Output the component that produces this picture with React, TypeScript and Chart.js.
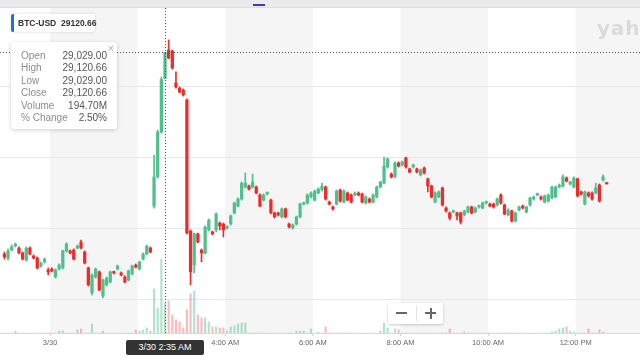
import React, { useEffect, useRef } from "react";
import { Chart, registerables } from "chart.js";
Chart.register(...registerables);

// Minutes relative to 3/30 00:00; 5-minute candles starting 3/29 22:55
const START_MIN = -65;
const STEP_MIN = 5;

const opens = [
  28410, 28396, 28424, 28438, 28431, 28414, 28389, 28431, 28403, 28396,
  28368, 28382, 28354, 28357, 28329, 28357, 28361, 28421, 28421, 28424,
  28431, 28452, 28417, 28361, 28273, 28329, 28347, 28262, 28301, 28311,
  28347, 28357, 28343, 28329, 28318, 28340, 28371, 28357, 28392, 28410,
  28431, 28579, 28682, 28840, 29029, 29129, 29126, 29013, 28995, 28988,
  28953, 28491, 28371, 28481, 28424, 28414, 28495, 28488, 28495, 28519,
  28516, 28502, 28516, 28555, 28579, 28604, 28646, 28650, 28646, 28646,
  28618, 28600, 28622, 28600, 28555, 28555, 28541, 28569, 28516, 28502,
  28516, 28541, 28586, 28590, 28611, 28600, 28625, 28636, 28646, 28593,
  28576, 28586, 28636, 28593, 28625, 28618, 28618, 28625, 28622, 28590,
  28604, 28593, 28611, 28646, 28660, 28717, 28692, 28682, 28731, 28724,
  28749, 28710, 28717, 28710, 28689, 28713, 28675, 28650, 28593, 28611,
  28643, 28572, 28555, 28558, 28555, 28555, 28548, 28558, 28576, 28558,
  28576, 28572, 28590, 28586, 28586, 28583, 28618, 28583, 28548, 28562,
  28526, 28565, 28579, 28558, 28583, 28604, 28618, 28611, 28593, 28597,
  28608, 28611, 28646, 28650, 28678, 28657, 28646, 28675, 28629, 28586,
  28625, 28625, 28625, 28653, 28671, 28660,
];
const highs = [
  28417, 28428, 28442, 28449, 28435, 28417, 28435, 28435, 28407, 28400,
  28382, 28396, 28361, 28361, 28357, 28375, 28424, 28449, 28424, 28428,
  28442, 28459, 28421, 28364, 28340, 28361, 28350, 28322, 28329, 28350,
  28350, 28371, 28347, 28333, 28354, 28371, 28375, 28385, 28414, 28442,
  28435, 28759, 28847, 29034, 29120.66, 29165, 29129, 29052, 28999, 28992,
  28957, 28495, 28484, 28484, 28428, 28509, 28534, 28491, 28555, 28523,
  28519, 28509, 28548, 28593, 28608, 28664, 28696, 28653, 28692, 28650,
  28622, 28622, 28629, 28604, 28558, 28558, 28572, 28572, 28519, 28516,
  28544, 28590, 28593, 28622, 28629, 28636, 28643, 28660, 28650, 28597,
  28579, 28636, 28639, 28636, 28629, 28622, 28629, 28629, 28625, 28615,
  28608, 28622, 28650, 28667, 28752, 28749, 28696, 28735, 28735, 28738,
  28752, 28713, 28727, 28713, 28710, 28717, 28678, 28653, 28629, 28632,
  28646, 28576, 28558, 28565, 28558, 28558, 28565, 28579, 28579, 28576,
  28583, 28593, 28597, 28590, 28590, 28608, 28622, 28586, 28569, 28565,
  28558, 28579, 28583, 28579, 28611, 28615, 28625, 28615, 28618, 28622,
  28650, 28650, 28657, 28689, 28682, 28667, 28682, 28678, 28632, 28632,
  28629, 28629, 28660, 28657, 28689, 28660,
];
const lows = [
  28392, 28389, 28421, 28435, 28410, 28389, 28385, 28407, 28392, 28357,
  28364, 28378, 28336, 28347, 28325, 28354, 28357, 28417, 28410, 28389,
  28428, 28428, 28375, 28297, 28266, 28325, 28280, 28255, 28297, 28308,
  28340, 28354, 28333, 28308, 28315, 28336, 28361, 28354, 28389, 28407,
  28414, 28572, 28678, 28836, 29029, 29098, 29062, 28995, 28978, 28967,
  28481, 28301, 28343, 28449, 28382, 28410, 28491, 28477, 28488, 28495,
  28470, 28498, 28512, 28551, 28576, 28600, 28643, 28636, 28643, 28622,
  28576, 28597, 28618, 28551, 28537, 28544, 28537, 28537, 28502, 28498,
  28512, 28537, 28583, 28586, 28608, 28597, 28622, 28632, 28600, 28583,
  28565, 28583, 28593, 28590, 28597, 28590, 28615, 28615, 28590, 28586,
  28590, 28590, 28608, 28643, 28657, 28713, 28678, 28678, 28717, 28720,
  28713, 28696, 28713, 28696, 28685, 28692, 28629, 28608, 28590, 28608,
  28579, 28558, 28530, 28555, 28530, 28516, 28544, 28555, 28551, 28555,
  28572, 28569, 28586, 28576, 28572, 28579, 28586, 28548, 28544, 28523,
  28523, 28562, 28569, 28555, 28579, 28600, 28615, 28600, 28590, 28593,
  28604, 28608, 28643, 28646, 28664, 28653, 28643, 28611, 28618, 28583,
  28611, 28600, 28622, 28593, 28667, 28657,
];
const closes = [
  28400, 28421, 28435, 28445, 28414, 28392, 28431, 28410, 28396, 28361,
  28378, 28392, 28347, 28350, 28354, 28371, 28421, 28445, 28414, 28392,
  28438, 28431, 28378, 28301, 28336, 28357, 28283, 28318, 28325, 28347,
  28343, 28368, 28336, 28311, 28350, 28368, 28364, 28382, 28410, 28438,
  28417, 28682, 28840, 29025, 29120.66, 29101, 29066, 28999, 28981, 28971,
  28484, 28347, 28481, 28452, 28414, 28505, 28530, 28481, 28551, 28509,
  28495, 28505, 28544, 28590, 28604, 28660, 28660, 28639, 28664, 28625,
  28579, 28618, 28625, 28555, 28541, 28548, 28569, 28541, 28505, 28512,
  28541, 28586, 28590, 28618, 28625, 28632, 28639, 28650, 28604, 28586,
  28569, 28632, 28597, 28632, 28600, 28593, 28625, 28618, 28593, 28611,
  28593, 28618, 28646, 28664, 28720, 28745, 28682, 28731, 28720, 28735,
  28717, 28699, 28724, 28699, 28706, 28696, 28650, 28611, 28625, 28629,
  28583, 28562, 28537, 28562, 28544, 28523, 28562, 28576, 28555, 28572,
  28579, 28590, 28593, 28579, 28576, 28604, 28590, 28551, 28565, 28526,
  28555, 28576, 28572, 28576, 28608, 28611, 28622, 28604, 28615, 28618,
  28646, 28646, 28653, 28682, 28667, 28664, 28678, 28615, 28622, 28629,
  28615, 28604, 28643, 28597, 28682, 28657,
];
// volume in millions
const volumes = [
  0, 0, 0, 13, 0, 0, 0, 0, 0, 0,
  0, 0, 0, 0, 0, 13, 13, 0, 0, 0,
  20, 26, 0, 0, 58, 0, 0, 13, 0, 0,
  0, 0, 0, 0, 0, 0, 20, 13, 20, 33,
  13, 286, 163, 481, 194.7, 208, 117, 85, 72, 33,
  150, 254, 273, 117, 98, 98, 72, 39, 39, 33,
  33, 13, 39, 46, 59, 65, 65, 0, 0, 0,
  0, 0, 0, 0, 0, 0, 0, 0, 0, 0,
  13, 13, 13, 0, 26, 0, 7, 0, 39, 0,
  0, 0, 0, 0, 0, 0, 0, 0, 0, 0,
  0, 0, 0, 13, 65, 33, 0, 26, 20, 0,
  0, 0, 0, 0, 0, 0, 0, 0, 0, 0,
  0, 0, 26, 0, 0, 0, 7, 0, 0, 0,
  0, 0, 0, 0, 0, 0, 0, 0, 0, 0,
  0, 0, 0, 0, 0, 0, 0, 0, 0, 0,
  7, 13, 26, 33, 39, 13, 7, 0, 0, 0,
  26, 0, 0, 20, 7, 0,
];

const tickValues = [0, 240, 360, 480, 600, 720];
const tickLabels = ["3/30", "4:00 AM", "6:00 AM", "8:00 AM", "10:00 AM", "12:00 PM"];
const shadedBands = [[0, 120], [240, 360], [480, 600], [720, 900]];
const priceGrid = [28250, 28500, 28750, 29000];
const crossTime = 155; // 3/30 2:35 AM
const crossPrice = 29120.66;

const X_MIN = -68.5;
const X_MAX = 808.1;
const Y_MIN = 28131.5;
const Y_MAX = 29277.5;
const VOL_MAX = 2112;

const GREEN = "#4fc08d";
const RED = "#ee2b2b";

// candles plotted at the middle of their 5-minute period
const centers = opens.map((_, i) => START_MIN + STEP_MIN * i + STEP_MIN / 2);
const isUp = opens.map((o, i) => closes[i] >= o);

const bgPlugin = {
  id: "bands",
  beforeDraw(chart: any) {
    const { ctx, chartArea, scales } = chart;
    const x = scales.x;
    ctx.save();
    ctx.fillStyle = "#f5f5f5";
    for (const [a, b] of shadedBands) {
      const pa = Math.max(chartArea.left, x.getPixelForValue(a));
      const pb = Math.min(chartArea.right, x.getPixelForValue(b));
      if (pb > pa) ctx.fillRect(pa, chartArea.top, pb - pa, chartArea.bottom - chartArea.top);
    }
    ctx.restore();
  },
  afterDatasetsDraw(chart: any) {
    const { ctx, chartArea, scales } = chart;
    const px = Math.round(scales.x.getPixelForValue(crossTime + STEP_MIN / 2)) + 0.5;
    const py = Math.round(scales.y.getPixelForValue(crossPrice)) + 0.5;
    ctx.save();
    ctx.strokeStyle = "#555";
    ctx.lineWidth = 1;
    ctx.setLineDash([1, 2]);
    ctx.beginPath();
    ctx.moveTo(px, chartArea.top);
    ctx.lineTo(px, chartArea.bottom);
    ctx.moveTo(0, py);
    ctx.lineTo(chart.width, py);
    ctx.stroke();
    ctx.restore();
  },
};

export default function App() {
  const ref = useRef<HTMLCanvasElement>(null);
  useEffect(() => {
    const chart = new Chart(ref.current as HTMLCanvasElement, {
      type: "bar",
      data: {
        datasets: [
          {
            label: "Volume",
            data: volumes.map((v, i) => ({ x: centers[i], y: v })) as any,
            yAxisID: "yv",
            backgroundColor: isUp.map((u) => (u ? "rgba(79,192,141,0.45)" : "rgba(238,43,43,0.32)")),
            barThickness: 1.5,
            grouped: false,
            order: 3,
          } as any,
          {
            label: "Wick",
            data: lows.map((l, i) => ({ x: centers[i], y: [l, highs[i]] })) as any,
            yAxisID: "y",
            backgroundColor: isUp.map((u) => (u ? GREEN : RED)),
            barThickness: 1,
            grouped: false,
            order: 2,
          } as any,
          {
            label: "Body",
            data: opens.map((o, i) => ({ x: centers[i], y: [o, closes[i]] })) as any,
            yAxisID: "y",
            backgroundColor: isUp.map((u) => (u ? GREEN : RED)),
            barThickness: 2.6,
            minBarLength: 1.5,
            grouped: false,
            order: 1,
          } as any,
        ],
      },
      options: {
        animation: false,
        responsive: false,
        devicePixelRatio: 1,
        events: [],
        layout: { padding: { top: 8, left: 0, right: 0, bottom: 0 } },
        plugins: { legend: { display: false }, tooltip: { enabled: false } },
        scales: {
          x: {
            type: "linear",
            min: X_MIN,
            max: X_MAX,
            offset: false,
            afterBuildTicks: (s: any) => {
              s.ticks = tickValues.map((v) => ({ value: v }));
            },
            afterFit: (s: any) => {
              s.height = 27;
            },
            grid: { drawOnChartArea: false, drawTicks: true, tickLength: 3, color: "#d0d0d0", offset: false },
            border: { display: true, color: "#dadada" },
            ticks: {
              autoSkip: false,
              maxRotation: 0,
              padding: 2.5,
              color: "#666",
              font: { family: "'Liberation Sans', Arial, sans-serif", size: 7.5 },
              callback: (v: any) => {
                const k = tickValues.indexOf(Number(v));
                return k >= 0 ? tickLabels[k] : "";
              },
            },
          } as any,
          y: {
            type: "linear",
            position: "right",
            min: Y_MIN,
            max: Y_MAX,
            afterBuildTicks: (s: any) => {
              s.ticks = priceGrid.map((v) => ({ value: v }));
            },
            afterFit: (s: any) => {
              s.width = 0;
            },
            grid: { color: "#e9e9e9", drawTicks: false },
            border: { display: false },
            ticks: { display: false },
          } as any,
          yv: {
            type: "linear",
            display: false,
            min: 0,
            max: VOL_MAX,
          } as any,
        },
      },
      plugins: [bgPlugin as any],
    });
    return () => chart.destroy();
  }, []);

  const rows = [
    ["Open", "29,029.00"],
    ["High", "29,120.66"],
    ["Low", "29,029.00"],
    ["Close", "29,120.66"],
    ["Volume", "194.70M"],
    ["% Change", "2.50%"],
  ];
  const rowTops = [50, 62, 74.5, 87, 99.5, 112];

  return (
    <div
      style={{
        position: "absolute",
        left: 0,
        top: 0,
        width: 640,
        height: 360,
        overflow: "hidden",
        background: "#fff",
        fontFamily: "'Liberation Sans', Arial, sans-serif",
      }}
    >
      <canvas ref={ref} width={640} height={360} style={{ position: "absolute", left: 0, top: 0, width: 640, height: 360 }} />
      {/* top strip */}
      <div style={{ position: "absolute", left: 0, top: 0, width: 640, height: 7, background: "#ebebee", borderBottom: "1px solid #dddde2" }} />
      <div style={{ position: "absolute", left: 253, top: 4, width: 12, height: 2, background: "#3b3bc6" }} />
      {/* watermark */}
      <div
        style={{
          position: "absolute",
          left: 597,
          top: 18,
          fontFamily: "'DejaVu Sans', sans-serif",
          fontSize: 20,
          lineHeight: "20px",
          fontWeight: 700,
          color: "#dadada",
          letterSpacing: 0.8,
          whiteSpace: "nowrap",
        }}
      >
        yahoo!
      </div>
      {/* symbol box */}
      <div
        style={{
          position: "absolute",
          left: 11,
          top: 14,
          width: 84,
          height: 18,
          background: "#fff",
          borderRadius: 2,
          boxShadow: "0 0 3px rgba(0,0,0,0.15)",
        }}
      >
        <div style={{ position: "absolute", left: 0, top: 0, width: 3, height: 18, background: "#1e6fe0", borderRadius: "2px 0 0 2px" }} />
        <div style={{ position: "absolute", left: 7, top: 0, lineHeight: "18px", fontSize: 8.5, fontWeight: 700, color: "#333", whiteSpace: "nowrap" }}>
          BTC-USD&nbsp;&nbsp;29120.66
        </div>
      </div>
      {/* tooltip box */}
      <div
        style={{
          position: "absolute",
          left: 11,
          top: 42,
          width: 106,
          height: 87,
          background: "#fff",
          borderRadius: 3,
          boxShadow: "0 1px 4px rgba(0,0,0,0.18)",
        }}
      />
      <div style={{ position: "absolute", left: 108, top: 43, fontSize: 10, color: "#aaa" }}>×</div>
      {rows.map(([k, v], i) => (
        <React.Fragment key={k}>
          <div style={{ position: "absolute", left: 21, top: rowTops[i], lineHeight: "12px", fontSize: 10, color: "#8c8c8c", whiteSpace: "nowrap" }}>{k}</div>
          <div style={{ position: "absolute", right: 640 - 107, top: rowTops[i], lineHeight: "12px", fontSize: 10, color: "#555", whiteSpace: "nowrap", textAlign: "right" }}>{v}</div>
        </React.Fragment>
      ))}
      {/* zoom control */}
      <div
        style={{
          position: "absolute",
          left: 388,
          top: 303,
          width: 55,
          height: 21,
          background: "#fff",
          borderRadius: 2,
          boxShadow: "0 1px 3px rgba(0,0,0,0.2)",
        }}
      >
        <div style={{ position: "absolute", left: 28, top: 3, width: 1, height: 15, background: "#e2e2e2" }} />
        <div style={{ position: "absolute", left: 8, top: 9, width: 11, height: 2, background: "#666" }} />
        <div style={{ position: "absolute", left: 37, top: 9, width: 11, height: 2, background: "#666" }} />
        <div style={{ position: "absolute", left: 41.5, top: 4.5, width: 2, height: 11, background: "#666" }} />
      </div>
      {/* crosshair time label */}
      <div
        style={{
          position: "absolute",
          left: 126,
          top: 340,
          width: 78,
          height: 15,
          background: "#333",
          borderRadius: 2,
          color: "#fff",
          fontSize: 9,
          lineHeight: "15px",
          textAlign: "center",
          whiteSpace: "nowrap",
        }}
      >
        3/30 2:35 AM
      </div>
    </div>
  );
}
